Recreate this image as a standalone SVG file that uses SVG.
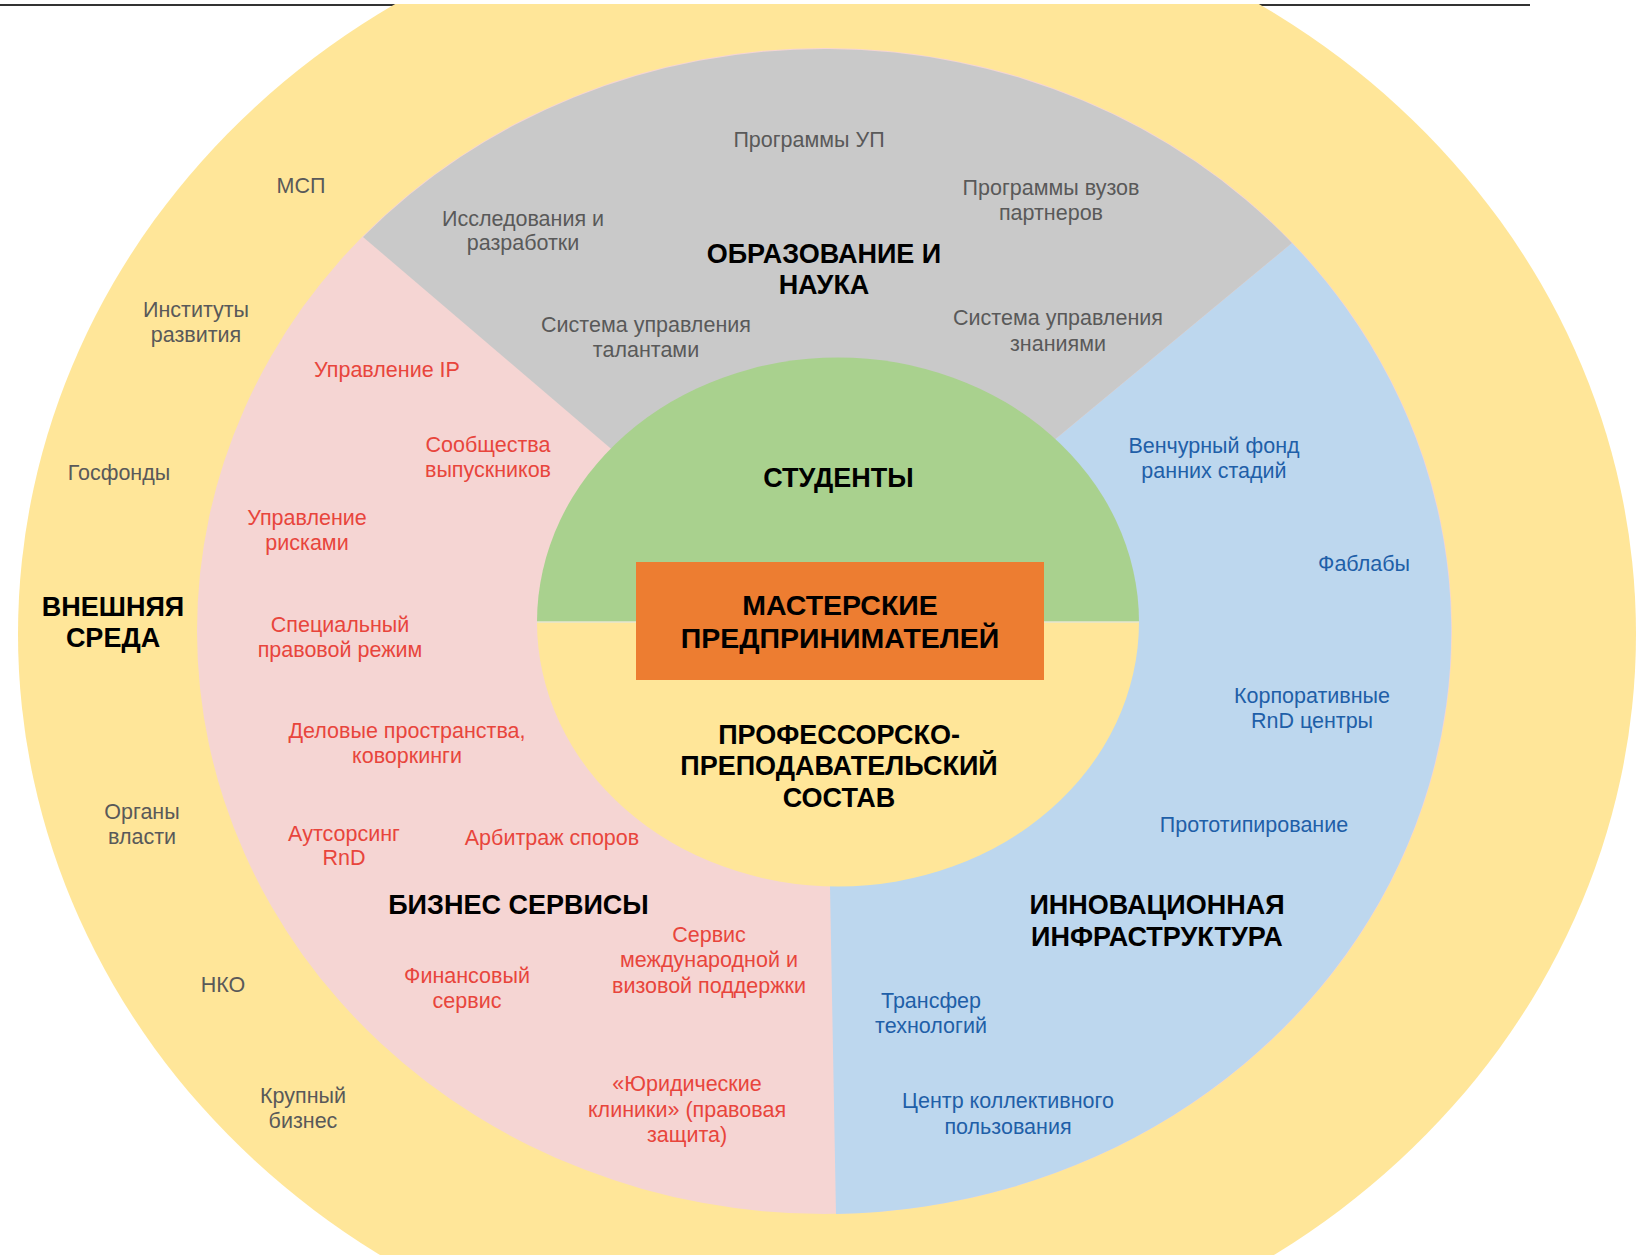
<svg xmlns="http://www.w3.org/2000/svg" width="1636" height="1255" viewBox="0 0 1636 1255">
<style>
text{font-family:"Liberation Sans",Arial,sans-serif;text-anchor:middle}
.g{font-size:21.5px;fill:#595959}
.r{font-size:21.5px;fill:#E8453C}
.b{font-size:21.5px;fill:#1F5FA8}
.h{font-size:27px;font-weight:bold;fill:#000}
.hc{font-size:28.5px;font-weight:bold;fill:#000}
</style>
<defs>
<clipPath id="page"><rect x="0" y="4" width="1636" height="1251"/></clipPath>
</defs>
<line x1="0" y1="5" x2="1530" y2="5" stroke="#333" stroke-width="2"/>
<g id="outer-ring">
<ellipse cx="827" cy="634" rx="809" ry="745" fill="#FFE699" clip-path="url(#page)"/>
</g>
<g id="business-services">
<ellipse cx="824.5" cy="631" rx="627.5" ry="583" fill="#F5D5D3"/>
</g>
<g id="innovation-infrastructure">
<path d="M982 500 L1292 243 A627.5 583 0 0 1 836 1214 L830 887 L829 850 Z" fill="#BDD7EE"/>
</g>
<g id="education-science">
<path d="M671 500 L363 237 A627.5 583 0 0 1 1292 243 L982 500 Z" fill="#C9C9C9"/>
</g>
<g id="students">
<path d="M537 622 A301 264.5 0 0 1 1139 622 Z" fill="#A9D18E"/>
</g>
<g id="faculty">
<path d="M537 622 A301 264.5 0 0 0 1139 622 Z" fill="#FFE699"/>
<line x1="537" y1="622" x2="1139" y2="622" stroke="#E6E6D0" stroke-width="1.5"/>
</g>
<g id="workshops">
<rect x="636" y="562" width="408" height="118" fill="#ED7D31"/>
<text class="hc" x="840" y="615">МАСТЕРСКИЕ</text>
<text class="hc" x="840" y="648">ПРЕДПРИНИМАТЕЛЕЙ</text>
</g>
<g id="labels-inner">
<text class="h" x="838.5" y="487">СТУДЕНТЫ</text>
<text class="h" x="839" y="744">ПРОФЕССОРСКО-</text>
<text class="h" x="839" y="775">ПРЕПОДАВАТЕЛЬСКИЙ</text>
<text class="h" x="839" y="807">СОСТАВ</text>
</g>
<g id="labels-education">
<text class="h" x="824" y="263">ОБРАЗОВАНИЕ И</text>
<text class="h" x="824" y="294">НАУКА</text>
<text class="g" x="809" y="147">Программы УП</text>
<text class="g" x="523" y="226">Исследования и</text>
<text class="g" x="523" y="250">разработки</text>
<text class="g" x="1051" y="195">Программы вузов</text>
<text class="g" x="1051" y="220">партнеров</text>
<text class="g" x="646" y="332">Система управления</text>
<text class="g" x="646" y="357">талантами</text>
<text class="g" x="1058" y="325">Система управления</text>
<text class="g" x="1058" y="351">знаниями</text>
</g>
<g id="labels-external">
<text class="h" x="113" y="616">ВНЕШНЯЯ</text>
<text class="h" x="113" y="647">СРЕДА</text>
<text class="g" x="301" y="193">МСП</text>
<text class="g" x="196" y="317">Институты</text>
<text class="g" x="196" y="342">развития</text>
<text class="g" x="119" y="480">Госфонды</text>
<text class="g" x="142" y="819">Органы</text>
<text class="g" x="142" y="844">власти</text>
<text class="g" x="223" y="992">НКО</text>
<text class="g" x="303" y="1103">Крупный</text>
<text class="g" x="303" y="1128">бизнес</text>
</g>
<g id="labels-business">
<text class="h" x="518.5" y="914">БИЗНЕС СЕРВИСЫ</text>
<text class="r" x="387" y="377">Управление IP</text>
<text class="r" x="488" y="452">Сообщества</text>
<text class="r" x="488" y="477">выпускников</text>
<text class="r" x="307" y="525">Управление</text>
<text class="r" x="307" y="550">рисками</text>
<text class="r" x="340" y="632">Специальный</text>
<text class="r" x="340" y="657">правовой режим</text>
<text class="r" x="407" y="738">Деловые пространства,</text>
<text class="r" x="407" y="763">коворкинги</text>
<text class="r" x="344" y="841">Аутсорсинг</text>
<text class="r" x="344" y="865">RnD</text>
<text class="r" x="552" y="845">Арбитраж споров</text>
<text class="r" x="709" y="942">Сервис</text>
<text class="r" x="709" y="967">международной и</text>
<text class="r" x="709" y="993">визовой поддержки</text>
<text class="r" x="467" y="983">Финансовый</text>
<text class="r" x="467" y="1008">сервис</text>
<text class="r" x="687" y="1091">«Юридические</text>
<text class="r" x="687" y="1117">клиники» (правовая</text>
<text class="r" x="687" y="1142">защита)</text>
</g>
<g id="labels-innovation">
<text class="h" x="1157" y="914">ИННОВАЦИОННАЯ</text>
<text class="h" x="1157" y="946">ИНФРАСТРУКТУРА</text>
<text class="b" x="1214" y="453">Венчурный фонд</text>
<text class="b" x="1214" y="478">ранних стадий</text>
<text class="b" x="1364" y="571">Фаблабы</text>
<text class="b" x="1312" y="703">Корпоративные</text>
<text class="b" x="1312" y="728">RnD центры</text>
<text class="b" x="1254" y="832">Прототипирование</text>
<text class="b" x="931" y="1008">Трансфер</text>
<text class="b" x="931" y="1033">технологий</text>
<text class="b" x="1008" y="1108">Центр коллективного</text>
<text class="b" x="1008" y="1134">пользования</text>
</g>
</svg>
